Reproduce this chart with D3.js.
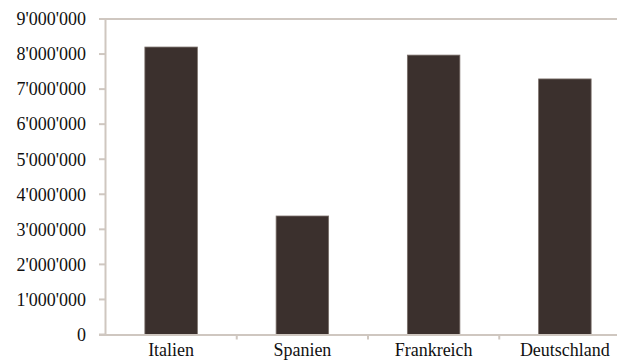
<!DOCTYPE html>
<html>
<head>
<meta charset="utf-8">
<script src="https://cdn.jsdelivr.net/npm/d3@7"></script>
<style>
  body { margin: 0; background: #fff; }
  svg { display: block; }
  .lbl { font-family: "Liberation Serif", "Times New Roman", serif; fill: #111; }
</style>
</head>
<body>
<div id="chart"></div>
<script>
const countries = ['Italien', 'Spanien', 'Frankreich', 'Deutschland'];
const values = [8200000, 3380000, 7970000, 7290000];
const yTicks = [0, 1000000, 2000000, 3000000, 4000000, 5000000, 6000000, 7000000, 8000000, 9000000];

const width = 617, height = 360;
const axisColor = '#cfc7c0';

const svg = d3.select('#chart').append('svg')
  .attr('width', width)
  .attr('height', height);

const x = d3.scaleBand()
  .domain(countries)
  .range([105.5, 630.5])
  .paddingInner(0.6)
  .paddingOuter(0.3);

const y = d3.scaleLinear()
  .domain([0, 9000000])
  .range([334.5, 19]);

// swiss style thousands: 9'000'000
const fmt = v => d3.format(',')(v).replace(/,/g, "'");

// top line at max value
svg.append('line')
  .attr('x1', 99).attr('x2', width)
  .attr('y1', y(9000000)).attr('y2', y(9000000))
  .attr('stroke', axisColor).attr('stroke-width', 2);

// y axis
const yAxis = svg.append('g');
yAxis.append('line')
  .attr('x1', 105.5).attr('x2', 105.5)
  .attr('y1', y(9000000)).attr('y2', y(0))
  .attr('stroke', axisColor).attr('stroke-width', 2);
yAxis.selectAll('.tick')
  .data(yTicks)
  .enter()
  .append('line')
  .attr('x1', 99).attr('x2', 105)
  .attr('y1', d => y(d)).attr('y2', d => y(d))
  .attr('stroke', axisColor).attr('stroke-width', 2);
yAxis.selectAll('text')
  .data(yTicks)
  .enter()
  .append('text')
  .attr('class', 'lbl')
  .attr('x', 86)
  .attr('y', d => y(d))
  .attr('dy', '0.35em')
  .attr('text-anchor', 'end')
  .style('font-size', '18px')
  .text(fmt);

// bars
svg.selectAll('.bar')
  .data(countries)
  .enter()
  .append('rect')
  .attr('class', 'bar')
  .attr('x', d => x(d))
  .attr('y', (d, i) => y(values[i]))
  .attr('width', x.bandwidth())
  .attr('height', (d, i) => y(0) - y(values[i]))
  .attr('fill', '#3b302d')
  .attr('stroke', '#7a6f6a')
  .attr('stroke-width', 0.8);

// x axis
svg.append('line')
  .attr('x1', 99).attr('x2', width)
  .attr('y1', y(0) + 0.5).attr('y2', y(0) + 0.5)
  .attr('stroke', axisColor).attr('stroke-width', 2);
svg.selectAll('.xtick')
  .data(countries.slice(1))
  .enter()
  .append('line')
  .attr('x1', d => x(d) - x.step() * x.paddingInner() / 2)
  .attr('x2', d => x(d) - x.step() * x.paddingInner() / 2)
  .attr('y1', y(0)).attr('y2', y(0) + 5)
  .attr('stroke', axisColor).attr('stroke-width', 2);
svg.selectAll('.xlbl')
  .data(countries)
  .enter()
  .append('text')
  .attr('class', 'lbl')
  .attr('x', d => x(d) + x.bandwidth() / 2)
  .attr('y', 356)
  .attr('text-anchor', 'middle')
  .style('font-size', '18px')
  .text(d => d);
</script>
</body>
</html>
